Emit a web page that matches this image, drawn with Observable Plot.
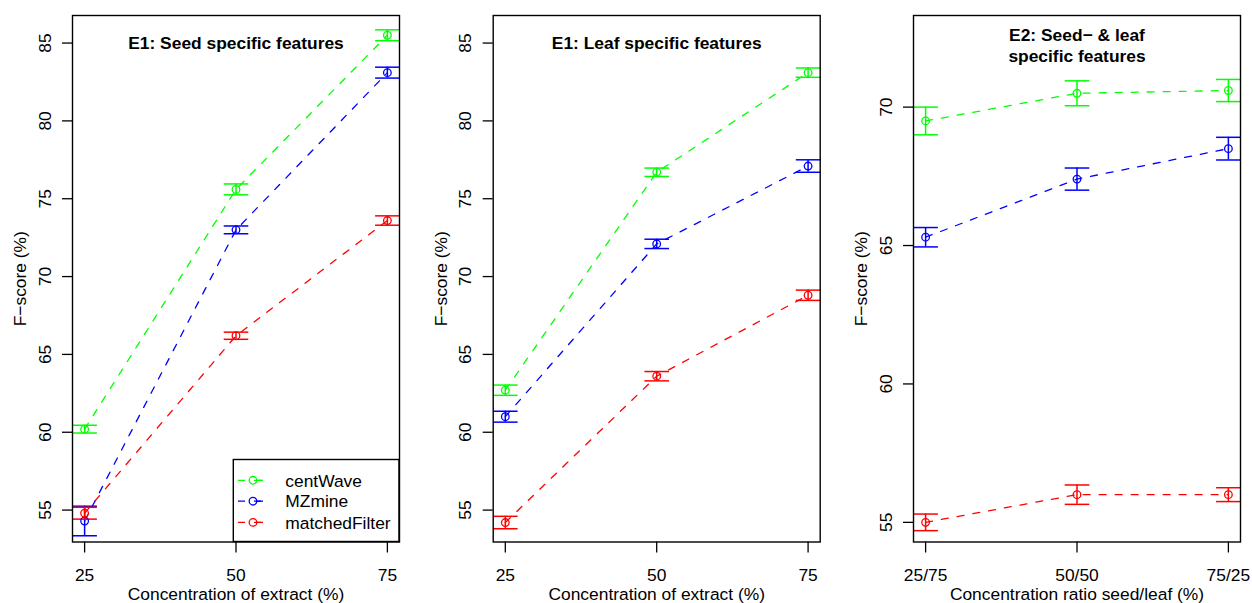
<!DOCTYPE html>
<html><head><meta charset="utf-8">
<script src="https://cdn.jsdelivr.net/npm/d3@7"></script>
<script src="https://cdn.jsdelivr.net/npm/@observablehq/plot@0.6"></script>
<style>
body{margin:0;background:#fff;}
#wrap{position:relative;width:1252px;height:603px;background:#fff;}
.panel{position:absolute;top:0;}
</style></head><body><div id="wrap"></div>
<script>
const xValues = [25, 50, 75];
const seriesNames = ["centWave", "MZmine", "matchedFilter"];
const seriesColors = ["#00ff00", "#0000ff", "#ff0000"];

// Panel E1 seed: rows = series (centWave, MZmine, matchedFilter), cols = x
const seedMean = [[60.2, 75.6, 85.5], [54.3, 73.0, 83.1], [54.8, 66.2, 73.6]];
const seedErr  = [[0.25, 0.35, 0.35], [0.95, 0.25, 0.35], [0.38, 0.23, 0.30]];
// Panel E1 leaf
const leafMean = [[62.7, 76.7, 83.1], [61.0, 72.1, 77.1], [54.2, 63.6, 68.8]];
const leafErr  = [[0.33, 0.27, 0.30], [0.35, 0.30, 0.40], [0.40, 0.30, 0.33]];
// Panel E2 mix
const mixMean = [[69.5, 70.5, 70.6], [65.3, 67.4, 68.5], [55.0, 56.0, 56.0]];
const mixErr  = [[0.50, 0.45, 0.40], [0.35, 0.40, 0.41], [0.30, 0.35, 0.25]];

const e1Ticks = [55, 60, 65, 70, 75, 80, 85];
const e2Ticks = [55, 60, 65, 70];
const e1TickLabels = ["25", "50", "75"];
const e2TickLabels = ["25/75", "50/50", "75/25"];

const FONT = '"Liberation Sans", Arial, Helvetica, sans-serif';
const FS = 17.4;

function rows(means, errs) {
  return means.flatMap((arr, s) => arr.map((v, i) => ({series: seriesNames[s], x: xValues[i], y: v, e: errs[s][i]})));
}

const capSymbol = {draw(ctx, size) { const r = Math.sqrt(size / Math.PI); ctx.moveTo(-r, 0); ctx.lineTo(r, 0); }};

function panel({means, errs, yDomain, yTicks, xTickLabels, title, titleDy, xLabel, width, mL, mR}) {
  const data = rows(means, errs);
  return Plot.plot({
    width, height: 603, marginLeft: mL, marginRight: mR, marginTop: 15, marginBottom: 61.5,
    x: {domain: [23, 77]},
    y: {domain: yDomain},
    color: {domain: seriesNames, range: seriesColors},
    style: {fontFamily: FONT, fontSize: FS + "px", background: "white", color: "black"},
    marks: [
      Plot.line(data, {x: "x", y: "y", z: "series", stroke: "series", strokeDasharray: "7,9", strokeWidth: 1.3}),
      Plot.ruleX(data, {x: "x", y1: d => d.y - d.e, y2: d => d.y + d.e, stroke: "series", strokeWidth: 1.5}),
      Plot.dot(data, {x: "x", y: d => d.y - d.e, symbol: capSymbol, r: 12.3, stroke: "series", strokeWidth: 1.5}),
      Plot.dot(data, {x: "x", y: d => d.y + d.e, symbol: capSymbol, r: 12.3, stroke: "series", strokeWidth: 1.5}),
      Plot.dot(data, {x: "x", y: "y", r: 3.8, stroke: "series", strokeWidth: 1.3, fill: "none"}),
      Plot.frame({stroke: "black", strokeWidth: 1.4}),
      Plot.axisX({ticks: xValues, tickSize: 11, tickFormat: () => "", label: null, strokeWidth: 1.3}),
      Plot.axisY({ticks: yTicks, tickSize: 10, tickFormat: () => "", label: null, strokeWidth: 1.3}),
      Plot.text(yTicks, {y: d => d, text: d => String(d), frameAnchor: "left", dx: -22, rotate: -90, textAnchor: "middle", lineAnchor: "bottom"}),
      Plot.text(xValues, {x: d => d, text: (d, i) => xTickLabels[i], frameAnchor: "bottom", dy: 33, lineAnchor: "middle"}),
      Plot.text([xLabel], {text: d => d, frameAnchor: "bottom", dy: 52.4, lineAnchor: "middle"}),
      Plot.text(["F\u2212score (%)"], {text: d => d, frameAnchor: "left", dx: -52, rotate: -90, textAnchor: "middle", lineAnchor: "middle"}),
      Plot.text([title], {text: d => d, frameAnchor: "top", dy: titleDy, fontWeight: "bold", lineAnchor: "middle", lineHeight: 1.207})
    ]
  });
}

const wrap = document.getElementById("wrap");
function place(el, left) { el.classList.add("panel"); el.style.left = left + "px"; wrap.appendChild(el); }

const p1 = panel({means: seedMean, errs: seedErr, yDomain: [52.95, 86.77], yTicks: e1Ticks, xTickLabels: e1TickLabels,
  title: "E1: Seed specific features", titleDy: 26.4, xLabel: "Concentration of extract (%)", width: 417, mL: 72, mR: 18});
place(p1, 0);
const p2 = panel({means: leafMean, errs: leafErr, yDomain: [52.95, 86.77], yTicks: e1Ticks, xTickLabels: e1TickLabels,
  title: "E1: Leaf specific features", titleDy: 26.4, xLabel: "Concentration of extract (%)", width: 418, mL: 75.7, mR: 15.3});
place(p2, 417);
const p3 = panel({means: mixMean, errs: mixErr, yDomain: [54.29, 73.31], yTicks: e2Ticks, xTickLabels: e2TickLabels,
  title: "E2: Seed\u2212 & leaf\nspecific features", titleDy: 28.9, xLabel: "Concentration ratio seed/leaf (%)", width: 417, mL: 78, mR: 12});
place(p3, 835);

// Legend (bottom-right of panel 1)
const leg = d3.create("svg").attr("width", 417).attr("height", 603)
  .style("position", "absolute").style("left", "0px").style("top", "0px").style("pointer-events", "none");
leg.append("rect").attr("x", 233.3).attr("y", 459.5).attr("width", 399 - 233.3).attr("height", 541.5 - 459.5)
  .attr("fill", "none").attr("stroke", "black").attr("stroke-width", 1.4);
const rowY = [480.3, 501.2, 522.4];
seriesNames.forEach((name, i) => {
  const g = leg.append("g");
  g.append("line").attr("x1", 238).attr("x2", 263).attr("y1", rowY[i]).attr("y2", rowY[i])
    .attr("stroke", seriesColors[i]).attr("stroke-width", 1.3).attr("stroke-dasharray", "7,9");
  g.append("line").attr("x1", 256).attr("x2", 263).attr("y1", rowY[i]).attr("y2", rowY[i])
    .attr("stroke", seriesColors[i]).attr("stroke-width", 1.3);
  g.append("circle").attr("cx", 253).attr("cy", rowY[i]).attr("r", 3.8).attr("fill", "none")
    .attr("stroke", seriesColors[i]).attr("stroke-width", 1.3);
  g.append("text").attr("x", 285.3).attr("y", rowY[i]).attr("dy", "0.36em").text(name)
    .attr("font-family", FONT).attr("font-size", FS + "px").attr("fill", "black");
});
wrap.appendChild(leg.node());
</script></body></html>
